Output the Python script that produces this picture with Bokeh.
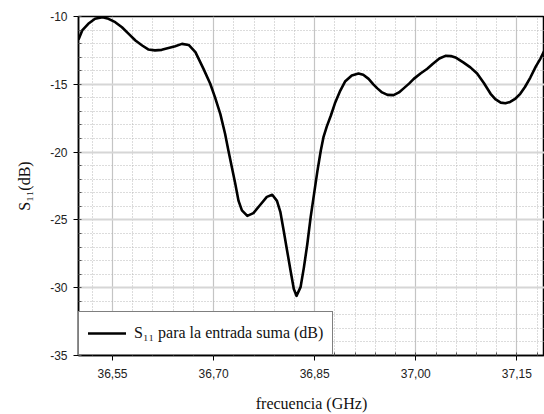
from bokeh.plotting import figure
from bokeh.models import FixedTicker, Range1d, Legend, LegendItem
from bokeh.embed import file_html
from bokeh.resources import INLINE

# Reflection coefficient S11 (dB) versus frequency (GHz) for the sum input
freq_ghz = [
    36.500, 36.505, 36.514, 36.524, 36.535, 36.544, 36.554, 36.564, 36.574,
    36.584, 36.594, 36.603, 36.613, 36.623, 36.633, 36.643, 36.653, 36.663,
    36.673, 36.685, 36.695, 36.702, 36.710, 36.717, 36.722, 36.727, 36.732,
    36.737, 36.742, 36.750, 36.759, 36.769, 36.779, 36.787, 36.794, 36.799,
    36.804, 36.809, 36.814, 36.819, 36.823, 36.829, 36.834, 36.839, 36.844,
    36.849, 36.854, 36.859, 36.863, 36.868, 36.874, 36.880, 36.888, 36.895,
    36.905, 36.915, 36.922, 36.930, 36.937, 36.943, 36.950, 36.958, 36.967,
    36.975, 36.982, 36.990, 36.997, 37.007, 37.017, 37.025, 37.035, 37.044,
    37.052, 37.060, 37.071, 37.081, 37.091, 37.101, 37.111, 37.118, 37.126,
    37.133, 37.140, 37.148, 37.155, 37.162, 37.170, 37.178, 37.185, 37.191,
]
s11_db = [
    -11.65, -11.03, -10.54, -10.17, -10.05, -10.17, -10.42, -10.79, -11.28,
    -11.77, -12.14, -12.43, -12.50, -12.46, -12.33, -12.19, -12.02, -12.10,
    -12.63, -13.86, -14.96, -15.95, -17.20, -18.65, -19.90, -21.10, -22.30,
    -23.60, -24.30, -24.70, -24.50, -23.90, -23.30, -23.15, -23.60, -24.40,
    -25.80, -27.25, -28.70, -30.10, -30.60, -29.96, -28.50, -26.80, -24.80,
    -23.10, -21.40, -19.90, -18.90, -18.10, -17.30, -16.40, -15.46, -14.80,
    -14.35, -14.20, -14.30, -14.60, -15.00, -15.30, -15.60, -15.78, -15.80,
    -15.60, -15.30, -14.95, -14.60, -14.20, -13.85, -13.50, -13.10, -12.90,
    -12.92, -13.05, -13.40, -13.75, -14.20, -14.90, -15.70, -16.10, -16.35,
    -16.40, -16.30, -16.05, -15.70, -15.20, -14.50, -13.70, -13.10, -12.50,
]

x_ticks = [36.55, 36.70, 36.85, 37.00, 37.15]
x_tick_labels = ["36,55", "36,70", "36,85", "37,00", "37,15"]
y_ticks = [-35, -30, -25, -20, -15, -10]
y_tick_labels = ["-35", "-30", "-25", "-20", "-15", "-10"]

x_minor = [round(36.52 + 0.03 * i, 2) for i in range(23)]
y_minor = list(range(-35, -9))

p = figure(
    width=544, height=414,
    output_backend="svg", toolbar_location=None,
    x_range=Range1d(36.4995, 37.191), y_range=Range1d(-35, -10),
    min_border_left=78, min_border_right=0,
    min_border_top=16, min_border_bottom=59,
)
p.background_fill_color = "white"
p.border_fill_color = "white"
p.outline_line_color = "black"
p.outline_line_width = 1.5

p.xaxis.ticker = FixedTicker(ticks=x_ticks, minor_ticks=x_minor)
p.yaxis.ticker = FixedTicker(ticks=y_ticks, minor_ticks=y_minor)
p.xaxis.major_label_overrides = dict(zip(x_ticks, x_tick_labels))
p.yaxis.major_label_overrides = dict(zip(y_ticks, y_tick_labels))

for ax in (p.xaxis, p.yaxis):
    ax.axis_line_color = "black"
    ax.axis_line_width = 1.5
    ax.major_tick_line_color = "black"
    ax.major_tick_out = 5
    ax.major_tick_in = 0
    ax.minor_tick_line_color = "#555555"
    ax.minor_tick_in = 3
    ax.minor_tick_out = 0
    ax.major_label_text_font = "Liberation Sans"
    ax.major_label_text_font_size = "12px"
    ax.major_label_text_color = "#222222"
    ax.axis_label_text_font = "Liberation Serif"
    ax.axis_label_text_font_size = "16px"
    ax.axis_label_text_font_style = "normal"
    ax.axis_label_text_color = "#111111"

p.xaxis.axis_label = "frecuencia (GHz)"
p.yaxis.axis_label = "S₁₁(dB)"
p.xaxis.major_label_standoff = 8
p.xaxis.axis_label_standoff = 14
p.yaxis.major_label_standoff = 6
p.yaxis.axis_label_standoff = 14

# grid: solid majors, dotted minors
p.xgrid.grid_line_color = "#c4c4c4"
p.xgrid.grid_line_width = 1.2
p.ygrid.grid_line_color = "#d6d6d6"
p.ygrid.grid_line_width = 2
for g in (p.xgrid, p.ygrid):
    g.minor_grid_line_color = "#b8b8b8"
    g.minor_grid_line_dash = "1 2"
    g.minor_grid_line_width = 1

curve = p.line(freq_ghz, s11_db, line_color="black", line_width=2.6,
               line_join="round", line_cap="round")

legend = Legend(
    items=[LegendItem(label="S₁₁ para la entrada suma (dB)", renderers=[curve])],
    location="bottom_left",
    margin=0, padding=9, spacing=0,
    glyph_width=38, glyph_height=24, label_standoff=8,
    label_text_font="Liberation Serif", label_text_font_size="16px",
    label_text_color="#111111",
    border_line_color="black", border_line_width=1.2,
    background_fill_color="white", background_fill_alpha=1.0,
)
p.add_layout(legend)

open("out.html", "w").write(file_html(p, INLINE))
